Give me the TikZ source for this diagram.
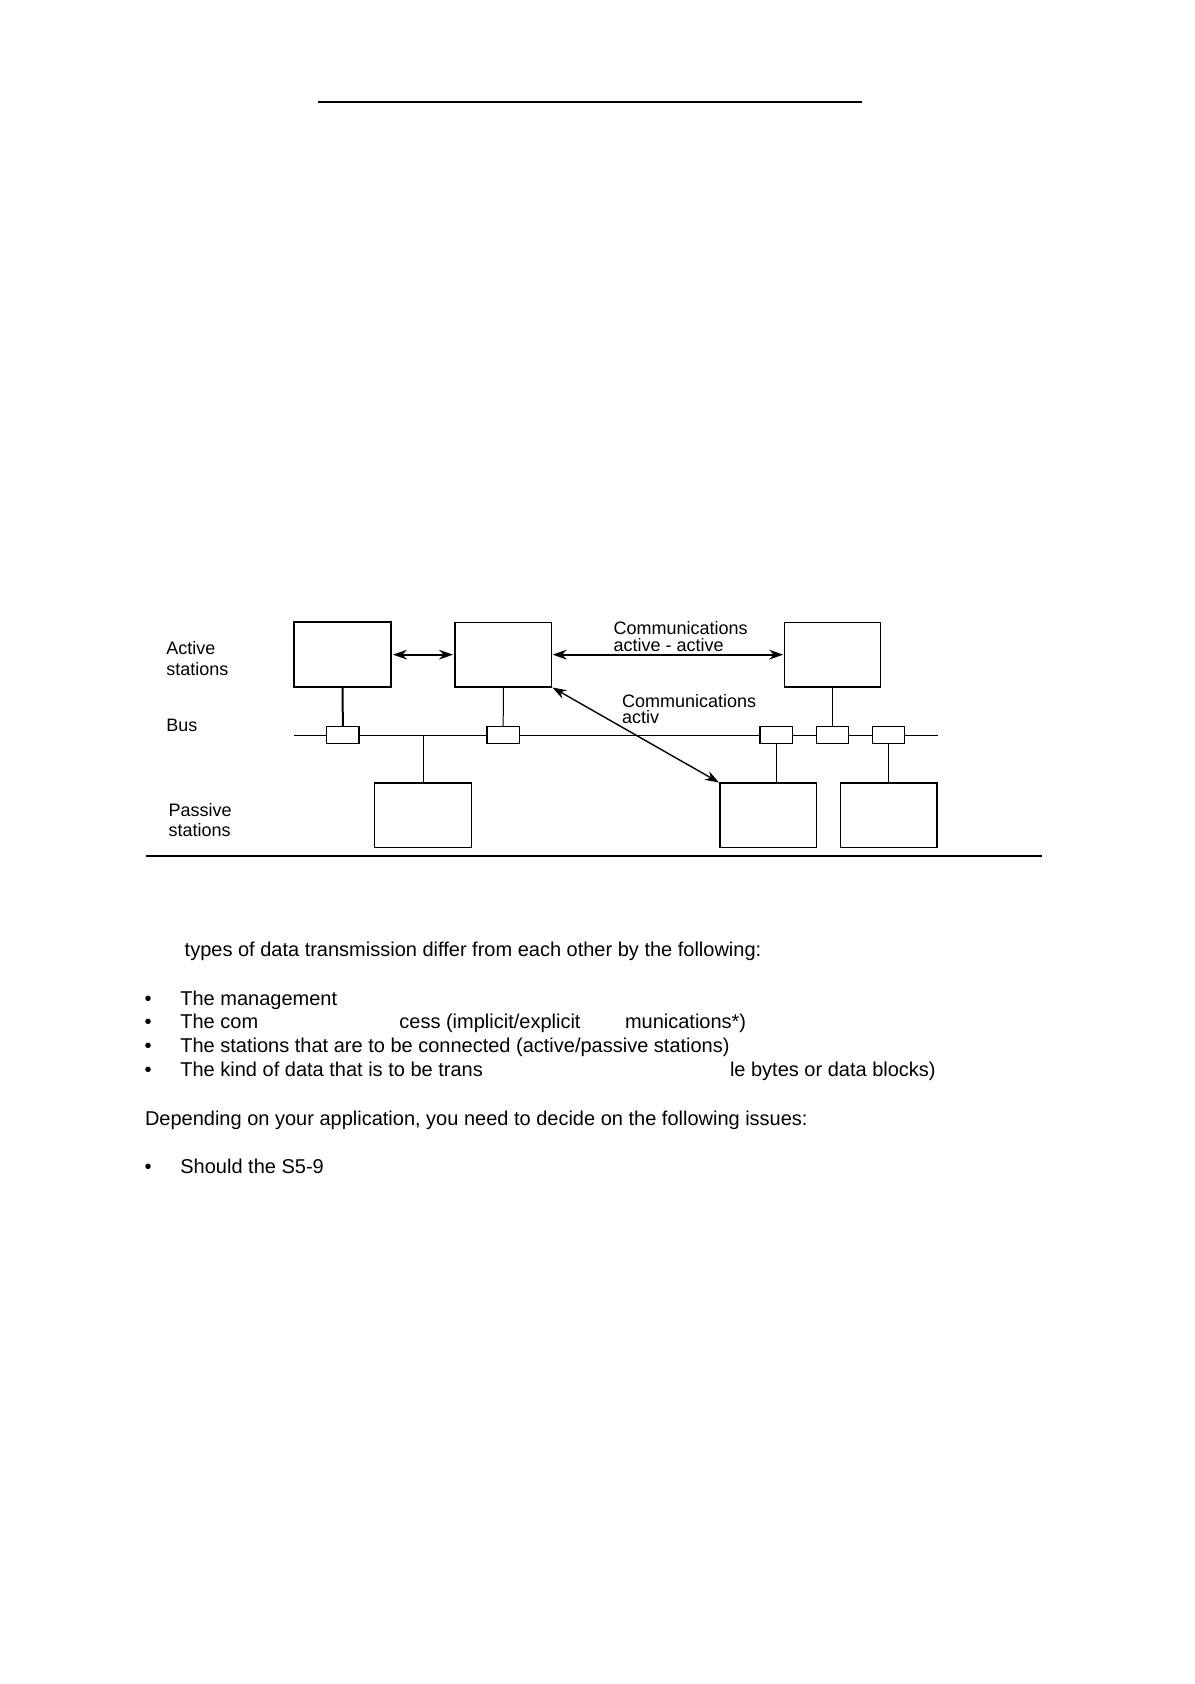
\documentclass[tikz,border=0pt]{standalone}
\usepackage{fontspec}
\setmainfont{Liberation Sans}
\usetikzlibrary{arrows.meta}
\begin{document}
\begin{tikzpicture}[x=0.5pt,y=-0.5pt,
  stbox/.style={draw,line width=0.65pt,minimum width=48.25pt,minimum height=32.35pt,inner sep=0pt,outer sep=0pt},
  tapbox/.style={draw,fill=white,line width=0.6pt,minimum width=16.15pt,minimum height=8.3pt,inner sep=0pt,outer sep=0pt},
  lbl/.style={anchor=north west,inner sep=0pt,outer sep=0pt,align=left,font=\fontsize{9}{10.5}\selectfont},
  body/.style={anchor=base west,inner sep=0pt,outer sep=0pt,font=\fontsize{10}{12}\selectfont},
  comm/.style={line width=1pt,{Stealth[length=7pt,width=4.8pt]}-{Stealth[length=7pt,width=4.8pt]}},
  rule/.style={line width=1.1pt}]
\useasboundingbox (0,0) rectangle (1194,1684);

% rules
\coordinate (tl) at (318,102);
\coordinate (tr) at (862,102);
\draw[rule] (tl) -- (tr);
\coordinate (bl) at (146,856);
\coordinate (br) at (1041.5,856);
\draw[rule] (bl) -- (br);

% bus
\coordinate (busL) at (294.3,735);
\coordinate (busR) at (937.7,735);
\draw[line width=0.5pt] (busL) -- (busR);

% stations
\node[stbox,line width=1pt] (a1) at (342.65,654.65) {};
\node[stbox] (a2) at (503.35,654.65) {};
\node[stbox] (a3) at (832.5,654.65) {};
\node[stbox] (p1) at (423,815.35) {};
\node[stbox] (p2) at (768.15,815.35) {};
\node[stbox] (p3) at (888.65,815.35) {};

% taps
\node[tapbox] (t1) at (342.8,735) {};
\node[tapbox] (t2) at (503.2,735) {};
\node[tapbox] (t3) at (776.2,735) {};
\node[tapbox] (t4) at (832.3,735) {};
\node[tapbox] (t5) at (888.6,735) {};

% drops
\draw[line width=1pt] (a1.south) -- (t1.north);
\draw[line width=0.5pt] (a2.south) -- (t2.north);
\draw[line width=0.5pt] (a3.south) -- (a3.south |- t4.north);
\draw[line width=0.5pt] (t3.south) -- (t3.south |- p2.north);
\draw[line width=0.5pt] (t5.south) -- (t5.south |- p3.north);
\draw[line width=0.5pt] (p1.north) -- (p1.north |- busL);

% communications
\draw[comm,shorten <=1pt,shorten >=1pt] (a1.east) -- (a2.west);
\draw[comm,shorten <=0.5pt,shorten >=0.5pt] (a2.east) -- (a3.west);
\draw[comm,line width=0.7pt,shorten <=0.5pt,shorten >=0.5pt] (a2.south east) -- (p2.north west);

% labels
\node[lbl] (lact) at (166.4,641.5) {Active\\stations};
\node[lbl] (lbus) at (166.4,719.5) {Bus};
\node[lbl,font=\fontsize{9}{10.25}\selectfont] (lpas) at (168.6,803) {Passive\\stations};
\node[lbl,font=\fontsize{9}{8.5}\selectfont] (lcaa) at (613.5,621.5) {Communications\\active - active};
\node[lbl,font=\fontsize{9}{8}\selectfont] (lcap) at (622,694.5) {Communications\\activ};

% body text
\node[body] (t0) at (184.7,956.5) {types of data transmission differ from each other by the following:};
\node[body] (b1) at (144.5,1005) {•};
\node[body] (x1) at (180.4,1005) {The management};
\node[body] (b2) at (144.5,1028.5) {•};
\node[body] (x2a) at (180.4,1028.5) {The com};
\node[body] (x2b) at (399.4,1028.5) {cess (implicit/explicit};
\node[body] (x2c) at (625,1028.5) {munications*)};
\node[body] (b3) at (144.5,1052.2) {•};
\node[body] (x3) at (180.4,1052.2) {The stations that are to be connected (active/passive stations)};
\node[body] (b4) at (144.5,1076.9) {•};
\node[body] (x4a) at (180.4,1076.9) {The kind of data that is to be trans};
\node[body] (x4b) at (730,1076.9) {le bytes or data blocks)};
\node[body] (t5x) at (145,1125.2) {Depending on your application, you need to decide on the following issues:};
\node[body] (b5) at (144.5,1173.5) {•};
\node[body] (x5) at (180.4,1173.5) {Should the S5-9};
\end{tikzpicture}
\end{document}
